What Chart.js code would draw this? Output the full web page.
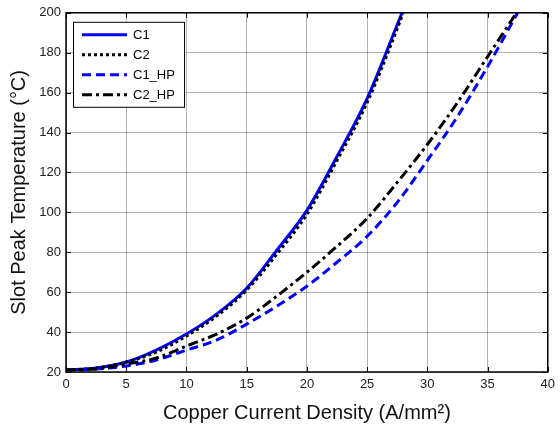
<!DOCTYPE html>
<html>
<head>
<meta charset="utf-8">
<script src="https://cdn.jsdelivr.net/npm/chart.js@4"></script>
<style>
  html, body { margin: 0; padding: 0; background: #fff; }
  #wrap { width: 560px; height: 425px; }
</style>
</head>
<body>
<div id="wrap"><canvas id="chart" width="560" height="425"></canvas></div>
<script>
// values
const c1X = [0, 2.5, 5, 7.5, 10, 12.5, 15, 17.5, 20, 22.5, 25, 27.5, 27.9];
const c1Y = [21, 22, 25, 31, 39, 49, 62, 81, 101, 128, 157, 194, 200];
const c2X = [0, 2.5, 5, 7.5, 10, 12.5, 15, 17.5, 20, 22.5, 25, 27.5, 28];
const c2Y = [21, 22, 25, 30, 38, 48, 61, 79, 99, 126, 155, 192, 200];
const c1hpX = [0, 2.5, 5, 7.5, 10, 12.5, 15, 17.5, 20, 22.5, 25, 27.5, 30, 32.5, 35, 37.5];
const c1hpY = [21, 21.5, 23, 26, 31, 36, 44, 53, 63, 75, 88, 105, 126, 148, 173, 200];
const c2hpX = [0, 2.5, 5, 7.5, 10, 12.5, 15, 17.5, 20, 22.5, 25, 27.5, 30, 32.5, 35, 37.4];
const c2hpY = [21, 21.5, 24, 27, 33, 39, 47, 58, 70, 83, 97, 115, 134, 155, 178, 200];
const xTicks = [0, 5, 10, 15, 20, 25, 30, 35, 40];
const yTicks = [20, 40, 60, 80, 100, 120, 140, 160, 180, 200];

const toPoints = (xs, ys) => xs.map((x, i) => ({ x: x, y: ys[i] }));

const series = [
  { label: "C1", data: toPoints(c1X, c1Y), color: "#0000ff", dash: [], order: 4 },
  { label: "C2", data: toPoints(c2X, c2Y), color: "#000000", dash: [3, 3], order: 3 },
  { label: "C1_HP", data: toPoints(c1hpX, c1hpY), color: "#0000ff", dash: [9, 5], order: 2 },
  { label: "C2_HP", data: toPoints(c2hpX, c2hpY), color: "#000000", dash: [10, 4, 3, 4], order: 1 }
];

// box, inner tick marks and legend, matlab style
const frame = {
  id: "frame",
  afterDraw(chart) {
    const ctx = chart.ctx;
    const a = chart.chartArea;
    const xs = chart.scales.x, ys = chart.scales.y;
    ctx.save();
    ctx.strokeStyle = "#000";
    ctx.lineWidth = 1;
    ctx.setLineDash([]);
    ctx.beginPath();
    xTicks.forEach(v => {
      const px = Math.round(xs.getPixelForValue(v)) + 0.5;
      ctx.moveTo(px, a.bottom); ctx.lineTo(px, a.bottom - 5);
      ctx.moveTo(px, a.top); ctx.lineTo(px, a.top + 5);
    });
    yTicks.forEach(v => {
      const py = Math.round(ys.getPixelForValue(v)) + 0.5;
      ctx.moveTo(a.left, py); ctx.lineTo(a.left + 5, py);
      ctx.moveTo(a.right, py); ctx.lineTo(a.right - 5, py);
    });
    ctx.stroke();
    ctx.lineWidth = 1.5;
    ctx.strokeRect(a.left, a.top, a.right - a.left, a.bottom - a.top);

    // legend
    const lx = a.left + 7, ly = a.top + 9, lw = 111, lh = 85;
    ctx.fillStyle = "#fff";
    ctx.fillRect(lx, ly, lw, lh);
    ctx.lineWidth = 1;
    ctx.strokeRect(lx + 0.5, ly + 0.5, lw, lh);
    ctx.font = "13px 'Liberation Sans', Arial, sans-serif";
    ctx.textBaseline = "middle";
    chart.data.datasets.forEach((ds, i) => {
      const y = ly + 13 + i * 20;
      ctx.strokeStyle = ds.borderColor;
      ctx.lineWidth = 3;
      ctx.setLineDash(ds.borderDash);
      ctx.beginPath();
      ctx.moveTo(lx + 9, y); ctx.lineTo(lx + 54, y);
      ctx.stroke();
      ctx.setLineDash([]);
      ctx.fillStyle = "#000";
      ctx.fillText(ds.label, lx + 60, y + 1);
    });
    ctx.restore();
  }
};

new Chart(document.getElementById("chart"), {
  type: "line",
  data: {
    datasets: series.map(s => ({
      label: s.label,
      data: s.data,
      borderColor: s.color,
      backgroundColor: s.color,
      borderDash: s.dash,
      borderWidth: 3,
      pointRadius: 0,
      cubicInterpolationMode: "monotone",
      fill: false,
      order: s.order
    }))
  },
  options: {
    responsive: false,
    animation: false,
    layout: { padding: { top: 10, right: 8, left: 0, bottom: 0 } },
    plugins: { legend: { display: false }, tooltip: { enabled: false } },
    scales: {
      x: {
        type: "linear",
        min: 0, max: 40,
        afterBuildTicks: scale => { scale.ticks = xTicks.map(v => ({ value: v })); },
        afterFit: scale => { scale.height = 53; },
        grid: { color: "rgba(0,0,0,0.3)", lineWidth: 1, drawTicks: false },
        border: { display: false },
        ticks: { color: "#222", font: { family: "'Liberation Sans', Arial", size: 13 }, padding: 5, maxRotation: 0 },
        title: {
          display: true,
          text: "Copper Current Density (A/mm²)",
          color: "#111",
          font: { family: "'Liberation Sans', Arial", size: 20 },
          padding: { top: 0, bottom: 0 }
        }
      },
      y: {
        min: 20, max: 200,
        afterBuildTicks: scale => { scale.ticks = yTicks.map(v => ({ value: v })); },
        afterFit: scale => { scale.width = 66; },
        grid: { color: "rgba(0,0,0,0.3)", lineWidth: 1, drawTicks: false },
        border: { display: false },
        ticks: { color: "#222", font: { family: "'Liberation Sans', Arial", size: 13 }, padding: 5 },
        title: {
          display: true,
          text: "Slot Peak Temperature (°C)",
          color: "#111",
          font: { family: "'Liberation Sans', Arial", size: 20 },
          padding: { top: 7, bottom: 0 }
        }
      }
    }
  },
  plugins: [frame]
});
</script>
</body>
</html>
